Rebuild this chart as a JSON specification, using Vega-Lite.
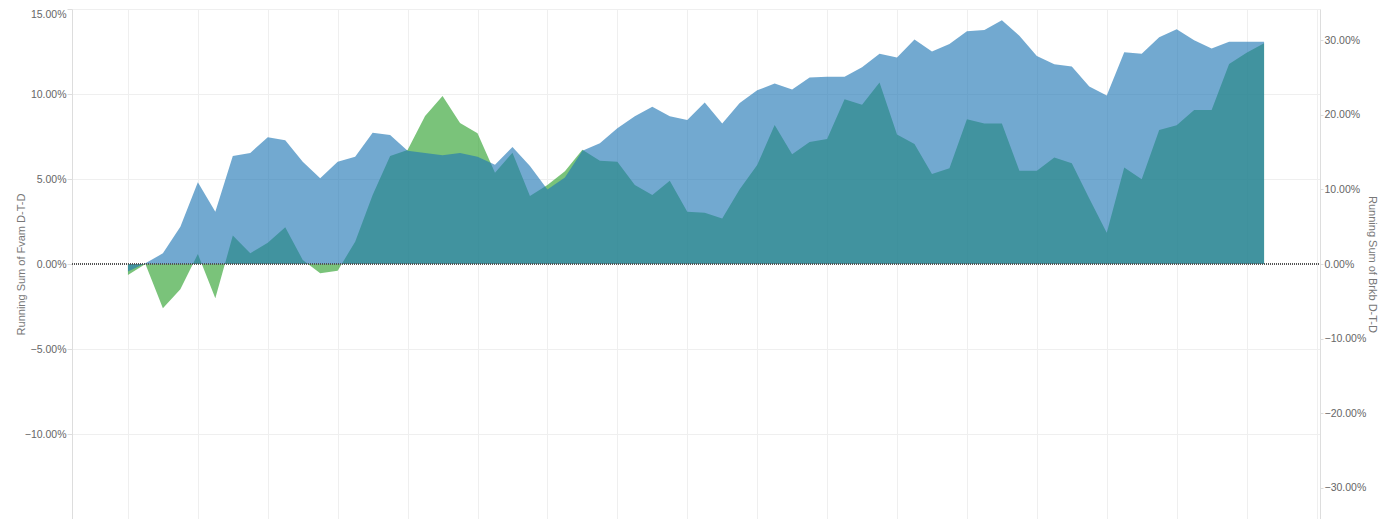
{
  "$schema": "https://vega.github.io/schema/vega-lite/v6.json",
  "autosize": "none",
  "width": 1248,
  "height": 510,
  "padding": {"left": 72, "top": 9, "right": 64, "bottom": 0},
  "background": "white",
  "config": {
    "view": {"stroke": null},
    "font": "Liberation Sans",
    "axis": {
      "labelFont": "Liberation Sans",
      "titleFont": "Liberation Sans",
      "labelFontSize": 10.5,
      "titleFontSize": 11,
      "titleFontWeight": "normal",
      "labelColor": "#666666",
      "titleColor": "#777777",
      "domainColor": "#dddddd",
      "tickColor": "#dddddd",
      "gridColor": "#efefef"
    }
  },
  "data": {
    "values": [
      {"i": 0, "fvam": -0.65, "brkb": -1.0},
      {"i": 1, "fvam": 0.0, "brkb": 0.1},
      {"i": 2, "fvam": -2.6, "brkb": 1.43},
      {"i": 3, "fvam": -1.49, "brkb": 5.0},
      {"i": 4, "fvam": 0.59, "brkb": 10.96},
      {"i": 5, "fvam": -2.02, "brkb": 7.0},
      {"i": 6, "fvam": 1.67, "brkb": 14.5},
      {"i": 7, "fvam": 0.63, "brkb": 14.9},
      {"i": 8, "fvam": 1.25, "brkb": 17.0},
      {"i": 9, "fvam": 2.16, "brkb": 16.6},
      {"i": 10, "fvam": 0.24, "brkb": 13.7},
      {"i": 11, "fvam": -0.55, "brkb": 11.5},
      {"i": 12, "fvam": -0.39, "brkb": 13.7},
      {"i": 13, "fvam": 1.31, "brkb": 14.4},
      {"i": 14, "fvam": 4.06, "brkb": 17.6},
      {"i": 15, "fvam": 6.35, "brkb": 17.3},
      {"i": 16, "fvam": 6.7, "brkb": 15.2},
      {"i": 17, "fvam": 8.7, "brkb": 14.9},
      {"i": 18, "fvam": 9.88, "brkb": 14.6},
      {"i": 19, "fvam": 8.3, "brkb": 14.9},
      {"i": 20, "fvam": 7.69, "brkb": 14.4},
      {"i": 21, "fvam": 5.37, "brkb": 13.3},
      {"i": 22, "fvam": 6.55, "brkb": 15.7},
      {"i": 23, "fvam": 4.0, "brkb": 13.15},
      {"i": 24, "fvam": 4.65, "brkb": 10.0},
      {"i": 25, "fvam": 5.45, "brkb": 11.6},
      {"i": 26, "fvam": 6.72, "brkb": 15.2},
      {"i": 27, "fvam": 6.08, "brkb": 16.2},
      {"i": 28, "fvam": 6.02, "brkb": 18.2},
      {"i": 29, "fvam": 4.65, "brkb": 19.8},
      {"i": 30, "fvam": 4.06, "brkb": 21.1},
      {"i": 31, "fvam": 4.9, "brkb": 19.8},
      {"i": 32, "fvam": 3.08, "brkb": 19.3},
      {"i": 33, "fvam": 3.02, "brkb": 21.65},
      {"i": 34, "fvam": 2.67, "brkb": 18.85},
      {"i": 35, "fvam": 4.4, "brkb": 21.6},
      {"i": 36, "fvam": 5.82, "brkb": 23.3},
      {"i": 37, "fvam": 8.18, "brkb": 24.2},
      {"i": 38, "fvam": 6.46, "brkb": 23.4},
      {"i": 39, "fvam": 7.17, "brkb": 25.0},
      {"i": 40, "fvam": 7.36, "brkb": 25.1},
      {"i": 41, "fvam": 9.69, "brkb": 25.1},
      {"i": 42, "fvam": 9.37, "brkb": 26.4},
      {"i": 43, "fvam": 10.67, "brkb": 28.2},
      {"i": 44, "fvam": 7.62, "brkb": 27.7},
      {"i": 45, "fvam": 7.06, "brkb": 30.1},
      {"i": 46, "fvam": 5.3, "brkb": 28.5},
      {"i": 47, "fvam": 5.63, "brkb": 29.5},
      {"i": 48, "fvam": 8.51, "brkb": 31.2},
      {"i": 49, "fvam": 8.27, "brkb": 31.4},
      {"i": 50, "fvam": 8.27, "brkb": 32.7},
      {"i": 51, "fvam": 5.49, "brkb": 30.6},
      {"i": 52, "fvam": 5.49, "brkb": 27.9},
      {"i": 53, "fvam": 6.27, "brkb": 26.8},
      {"i": 54, "fvam": 5.92, "brkb": 26.5},
      {"i": 55, "fvam": 3.86, "brkb": 23.8},
      {"i": 56, "fvam": 1.84, "brkb": 22.6},
      {"i": 57, "fvam": 5.67, "brkb": 28.4},
      {"i": 58, "fvam": 4.98, "brkb": 28.2},
      {"i": 59, "fvam": 7.88, "brkb": 30.4},
      {"i": 60, "fvam": 8.16, "brkb": 31.5},
      {"i": 61, "fvam": 9.06, "brkb": 30.0},
      {"i": 62, "fvam": 9.06, "brkb": 28.9},
      {"i": 63, "fvam": 11.76, "brkb": 29.8},
      {"i": 64, "fvam": 12.43, "brkb": 29.8},
      {"i": 65, "fvam": 12.98, "brkb": 29.8}
    ]
  },
  "encoding": {
    "x": {
      "field": "i",
      "type": "quantitative",
      "scale": {"domain": [-3.2, 68.2], "nice": false, "zero": false},
      "axis": {
        "values": [0, 4, 8, 12, 16, 20, 24, 28, 32, 36, 40, 44, 48, 52, 56, 60, 64, 68],
        "labels": false,
        "ticks": false,
        "domain": false,
        "title": null,
        "grid": true
      }
    }
  },
  "layer": [
    {
      "mark": {"type": "area", "color": "#2ca02c", "opacity": 0.63},
      "encoding": {
        "y": {
          "field": "fvam",
          "type": "quantitative",
          "scale": {"domain": [-15, 15], "nice": false},
          "axis": {
            "orient": "left",
            "title": "Running Sum of Fvam D-T-D",
            "values": [-10, -5, 0, 5, 10, 15],
            "labelExpr": "format(datum.value, '.2f') + '%'",
            "labelFlush": true,
            "tickSize": 5,
            "labelPadding": 1,
            "titlePadding": -2,
            "grid": true,
            "gridOpacity": {"condition": {"test": "datum.value === 0", "value": 0}, "value": 1}
          }
        }
      }
    },
    {
      "layer": [
        {
          "mark": {"type": "area", "color": "#1f77b4", "opacity": 0.63},
          "encoding": {
            "y": {
              "field": "brkb",
              "type": "quantitative",
              "scale": {"domain": [-34.2, 34.2], "nice": false},
              "axis": {
                "orient": "right",
                "title": "Running Sum of Brkb D-T-D",
                "values": [-30, -20, -10, 0, 10, 20, 30],
                "labelExpr": "format(datum.value, '.2f') + '%'",
                "tickSize": 3,
                "labelPadding": 1,
                "titlePadding": 1,
                "grid": false
              }
            }
          }
        },
        {
          "mark": {"type": "rule", "color": "#555555", "strokeDash": [1, 1], "strokeWidth": 1},
          "encoding": {
            "y": {"datum": 0, "type": "quantitative"},
            "x": {"value": 0},
            "x2": {"value": 1248}
          }
        }
      ]
    }
  ],
  "resolve": {"scale": {"y": "independent"}}
}
